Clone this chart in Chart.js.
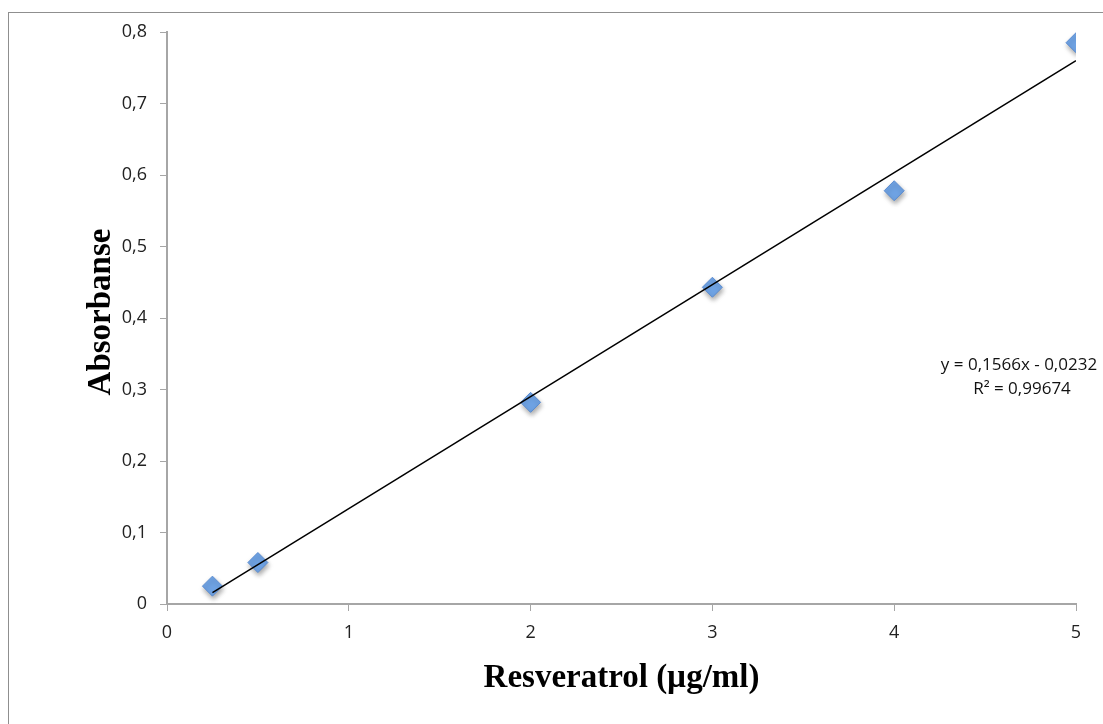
<!DOCTYPE html>
<html>
<head>
<meta charset="utf-8">
<script src="https://cdn.jsdelivr.net/npm/chart.js@4/dist/chart.umd.min.js"></script>
<style>
  html, body { margin: 0; padding: 0; background: #fff; overflow: hidden; width: 1103px; height: 724px; }
  #frame { position: absolute; left: 8px; top: 12px; width: 1200px; height: 800px; border: 1px solid #8f8f8f; box-sizing: border-box; }
  #c { position: absolute; left: 0; top: 0; }
</style>
</head>
<body>
<div id="frame"></div>
<canvas id="c" width="1103" height="724"></canvas>
<script>
// Measured data (Resveratrol concentration vs absorbance)
const concentrations = [0.25, 0.5, 2, 3, 4, 5];
const absorbance = [0.025, 0.058, 0.282, 0.443, 0.578, 0.785];

// Linear trendline endpoints (as drawn)
const trendX = [0.25, 5];
const trendY = [0.016, 0.760];

// Tick labels
const xTickLabels = ['0', '1', '2', '3', '4', '5'];
const yTickLabels = ['0', '0,1', '0,2', '0,3', '0,4', '0,5', '0,6', '0,7', '0,8'];

// Texts
const xTitle = 'Resveratrol (µg/ml)';
const yTitle = 'Absorbanse';
const equationLines = ['y = 0,1566x - 0,0232', 'R² = 0,99674'];

const axisColor = '#a6a6a6';
const tickFont = { family: 'Open Sans', size: 18 };

const shadowPlugin = {
  id: 'shadow',
  beforeDatasetDraw(chart, args) {
    if (args.index === 1) {
      const ctx = chart.ctx;
      ctx.save();
      ctx.shadowColor = 'rgba(0,0,0,0.35)';
      ctx.shadowBlur = 5;
      ctx.shadowOffsetX = 1;
      ctx.shadowOffsetY = 3;
    }
  },
  afterDatasetDraw(chart, args) {
    if (args.index === 1) chart.ctx.restore();
  }
};

const textPlugin = {
  id: 'texts',
  afterDraw(chart) {
    const ctx = chart.ctx;
    const a = chart.chartArea;
    ctx.save();
    ctx.fillStyle = '#000';
    ctx.font = 'bold 33px "Liberation Serif"';
    ctx.textAlign = 'center';
    ctx.textBaseline = 'middle';
    ctx.fillText(xTitle, (a.left + a.right) / 2, 678);
    ctx.save();
    ctx.translate(101, 312);
    ctx.rotate(-Math.PI / 2);
    ctx.fillText(yTitle, 0, 0);
    ctx.restore();
    ctx.font = '17px "Open Sans"';
    ctx.fillStyle = '#111';
    ctx.fillText(equationLines[0], 1019, 365);
    ctx.fillText(equationLines[1], 1022, 389);
    ctx.restore();
  }
};

new Chart(document.getElementById('c'), {
  type: 'scatter',
  data: {
    datasets: [
      {
        type: 'line',
        label: 'Trend',
        data: trendX.map((x, i) => ({ x, y: trendY[i] })),
        borderColor: '#000',
        borderWidth: 1.5,
        pointRadius: 0,
        fill: false
      },
      {
        label: 'Absorbanse',
        data: concentrations.map((x, i) => ({ x, y: absorbance[i] })),
        pointStyle: 'rectRot',
        pointRadius: 10,
        backgroundColor: '#6fa3e4',
        borderColor: '#5a8bd0',
        borderWidth: 1
      }
    ]
  },
  options: {
    responsive: false,
    animation: false,
    devicePixelRatio: 1,
    layout: { padding: { left: 0, right: 27, top: 32, bottom: 0 } },
    plugins: {
      legend: { display: false },
      tooltip: { enabled: false },
      title: { display: false }
    },
    scales: {
      x: {
        type: 'linear',
        min: 0, max: 5,
        afterFit(s) { s.height = 120; },
        ticks: {
          stepSize: 1,
          color: '#222',
          font: tickFont,
          padding: 11,
          callback: (v, i) => xTickLabels[i]
        },
        grid: { drawOnChartArea: false, drawTicks: true, tickLength: 7, color: axisColor },
        border: { color: axisColor, width: 2 }
      },
      y: {
        type: 'linear',
        min: 0, max: 0.8,
        afterFit(s) { s.width = 167; },
        ticks: {
          stepSize: 0.1,
          color: '#222',
          font: tickFont,
          padding: 13,
          callback: (v, i) => yTickLabels[i]
        },
        grid: { drawOnChartArea: false, drawTicks: true, tickLength: 7, color: axisColor },
        border: { color: axisColor, width: 2 }
      }
    }
  },
  plugins: [shadowPlugin, textPlugin]
});
</script>
</body>
</html>
